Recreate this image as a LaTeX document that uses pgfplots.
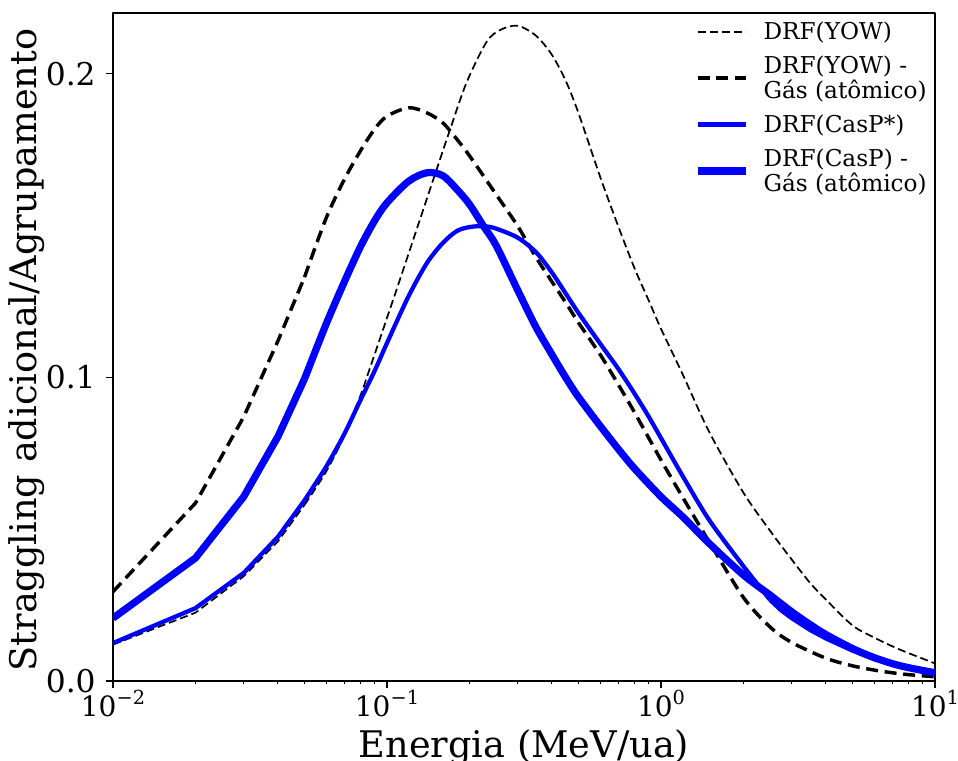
\documentclass[border=0pt]{standalone}
\usepackage{fontspec}
\setmainfont{DejaVu Serif}
\usepackage{pgfplots}
\pgfplotsset{compat=1.18}
\newcommand{\tp}[1]{10\raisebox{0.42em}{\fontsize{14.5pt}{14.5pt}\selectfont #1}}
\begin{document}
\lineskiplimit=-20pt
\begin{tikzpicture}
\begin{axis}[
  scale only axis, width=616.5pt, height=501pt,
  xmode=log, xmin=0.01, xmax=10, ymin=0, ymax=0.22,
  xtick={0.01,0.1,1,10},
  xticklabels={\tp{−2},\tp{−1},\tp{0},\tp{1}},
  ytick={0,0.1,0.2}, yticklabels={0.0,0.1,0.2},
  tick align=outside, tick pos=left,
  major tick length=5pt, minor tick length=2.5pt,
  major tick style={black, line width=1.1pt},
  minor tick style={black, line width=0.8pt},
  axis line style={line width=1.5pt},
  xticklabel style={font=\fontsize{21}{21}\selectfont, inner sep=0pt, yshift=-1.5pt},
  yticklabel style={font=\fontsize{23.5}{23.5}\selectfont, inner sep=0pt, xshift=-7.8pt},
  xlabel={Energia (MeV/ua)}, ylabel={Straggling adicional/Agrupamento},
  label style={font=\fontsize{27.5}{27.5}\selectfont},
  xlabel style={at={(axis description cs:0.5,-0.1138)}, anchor=base},
  ylabel style={at={(axis description cs:-0.0925,0.4955)}, anchor=base},
  legend image code/.code={\draw[#1] (0pt,0pt) -- (36pt,0pt); \path (0pt,0pt) (45.75pt,0pt);},
  legend style={at={(0.7068,0.9885)}, anchor=north west, draw=none, fill=none,
    inner sep=0pt, outer sep=0pt, row sep=8.7pt, column sep=0pt,
    nodes={inner sep=1pt}, cells={anchor=west, align=left},
    font=\fontsize{17.4}{18.75}\selectfont},
  line join=round,
]
% DRF(YOW)
\addplot[black, line width=1.3pt, dash pattern=on 6pt off 3pt] coordinates {
(0.01,0.012) (0.02,0.0225) (0.03,0.0345) (0.04,0.046) (0.05,0.058)};
\addlegendentry{DRF(YOW)}
\addplot[black, line width=1.3pt, dash pattern=on 6pt off 3pt, smooth, forget plot] coordinates {
(0.05,0.058) (0.06,0.069) (0.07,0.081) (0.08,0.094) (0.0855,0.1015)
(0.1115,0.1322) (0.1476,0.1652) (0.170,0.1817) (0.1954,0.1972) (0.231,0.2105) (0.26,0.2145) (0.3,0.2158) (0.35,0.2125)
(0.4,0.2062) (0.45,0.1975) (0.5,0.1870) (0.6,0.1660) (0.7,0.1495) (0.8,0.1360) (0.9,0.1255) (1.0,0.1160) (1.2,0.1010)
(1.5,0.0820) (2.0,0.0620) (2.5,0.0495) (3.0,0.0400) (3.5,0.0323) (4.0,0.0268) (5.0,0.0183) (6,0.0143) (7,0.0114)
(8,0.0092) (10,0.0058)};
% DRF(YOW) - Gas
\addplot[black, line width=2.6pt, dash pattern=on 9pt off 5pt] coordinates {
(0.01,0.0294) (0.02,0.0586) (0.03,0.087) (0.04,0.112) (0.05,0.133)};
\addlegendentry{DRF(YOW) -\\Gás (atômico)}
\addplot[black, line width=2.6pt, dash pattern=on 9pt off 5pt, smooth, forget plot] coordinates {
(0.05,0.133) (0.06,0.1525) (0.07,0.1653) (0.08,0.1746) (0.09,0.1817)
(0.1,0.186) (0.12,0.1888) (0.14,0.1871) (0.16,0.1838) (0.18,0.1784) (0.2,0.173) (0.25,0.1603) (0.3,0.1498) (0.35,0.1395)
(0.4,0.1315) (0.45,0.1245) (0.5,0.118) (0.6,0.1075) (0.7,0.0975) (0.8,0.0885) (1.0,0.0728) (1.2,0.0605) (1.5,0.0458)
(2.0,0.0275) (2.5,0.0178) (3.0,0.0127) (4.0,0.0075) (5,0.0050) (6,0.0036) (7,0.0027) (8,0.0021) (10,0.0014)};
% DRF(CasP*)
\addplot[blue, line width=3.2pt] coordinates {
(0.01,0.0125) (0.02,0.024) (0.03,0.0356) (0.04,0.0475) (0.05,0.0595)};
\addlegendentry{DRF(CasP*)}
\addplot[blue, line width=3.2pt, smooth, forget plot] coordinates {
(0.05,0.0595) (0.06,0.0706) (0.07,0.0815) (0.08,0.0925) (0.09,0.102)
(0.1,0.1113) (0.12,0.1268) (0.14,0.1377) (0.16,0.1443) (0.18,0.1482) (0.2,0.1495) (0.225,0.1498) (0.25,0.1490) (0.3,0.1460)
(0.35,0.1412) (0.4,0.1345) (0.45,0.1275) (0.5,0.1212) (0.6,0.1111) (0.7,0.1027) (0.8,0.0947) (0.9,0.0872) (1.0,0.0800)
(1.2,0.0675) (1.5,0.053) (2.0,0.0378) (2.5,0.0267)};
\addplot[blue, line width=3.2pt, forget plot] coordinates {
(2.5,0.0267) (2.75,0.0232) (3.0,0.0207) (3.5,0.0168) (4,0.0140) (5,0.0100) (6,0.0072) (7,0.0057) (8,0.0046) (10,0.0031)};
% DRF(CasP) - Gas
\addplot[blue, line width=5.4pt] coordinates {
(0.01,0.0207) (0.02,0.0405) (0.03,0.0607) (0.04,0.0805) (0.05,0.0995)};
\addlegendentry{DRF(CasP) -\\Gás (atômico)}
\addplot[blue, line width=5.4pt, smooth, forget plot] coordinates {
(0.05,0.0995) (0.06,0.1176) (0.07,0.1316) (0.08,0.143) (0.09,0.1515)
(0.1,0.1575) (0.12,0.1646) (0.14,0.1674) (0.16,0.1664) (0.18,0.1619) (0.2,0.157) (0.225,0.1498) (0.25,0.1435) (0.3,0.1287)
(0.35,0.1165) (0.4,0.1075) (0.45,0.0998) (0.5,0.0935) (0.6,0.0840) (0.7,0.0763) (0.8,0.0700) (1.0,0.0607) (1.2,0.0541)
(1.5,0.0453) (2.0,0.0349) (2.5,0.0283) (3.0,0.0228) (3.5,0.0186) (4,0.0153) (5,0.0107) (6,0.0077) (7,0.0057) (8,0.0044) (10,0.0027)};
\end{axis}
\pgfresetboundingbox
\path[use as bounding box] ([shift={(-84.75pt,-59.25pt)}]current axis.south west) rectangle ([shift={(17.25pt,9.75pt)}]current axis.north east);
\end{tikzpicture}
\end{document}
